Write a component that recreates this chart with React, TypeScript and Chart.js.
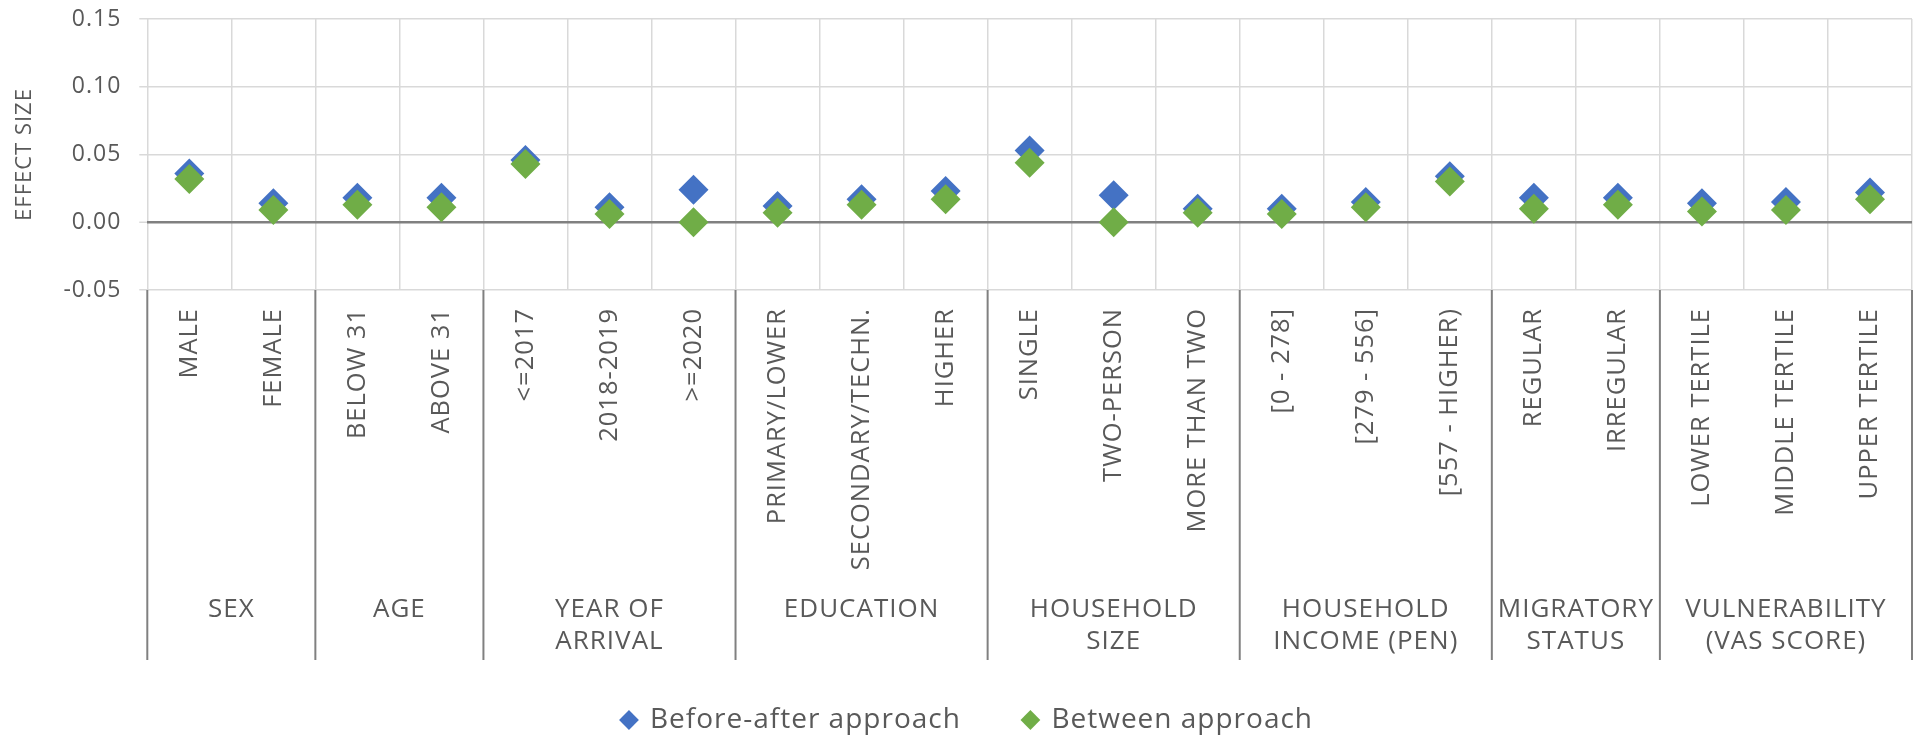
import React, { useEffect, useRef } from 'react';
import { Chart, registerables } from 'chart.js';

Chart.register(...registerables);

// ---- data ----
const categories = [
  'MALE', 'FEMALE',
  'BELOW 31', 'ABOVE 31',
  '<=2017', '2018-2019', '>=2020',
  'PRIMARY/LOWER', 'SECONDARY/TECHN.', 'HIGHER',
  'SINGLE', 'TWO-PERSON', 'MORE THAN TWO',
  '[0 - 278]', '[279 - 556]', '[557 - HIGHER)',
  'REGULAR', 'IRREGULAR',
  'LOWER TERTILE', 'MIDDLE TERTILE', 'UPPER TERTILE',
];
const groupNames = [
  ['SEX'], ['AGE'], ['YEAR OF', 'ARRIVAL'], ['EDUCATION'],
  ['HOUSEHOLD', 'SIZE'], ['HOUSEHOLD', 'INCOME (PEN)'],
  ['MIGRATORY', 'STATUS'], ['VULNERABILITY', '(VAS SCORE)'],
];
const groupSizes = [2, 2, 3, 3, 3, 3, 2, 3];
const seriesNames = ['Before-after approach', 'Between approach'];
const beforeAfter = [
  0.036, 0.014, 0.018, 0.018, 0.046, 0.011, 0.024, 0.012, 0.017, 0.023,
  0.053, 0.020, 0.010, 0.010, 0.015, 0.034, 0.018, 0.018, 0.014, 0.015, 0.022,
];
const between = [
  0.032, 0.009, 0.013, 0.011, 0.043, 0.006, 0.000, 0.007, 0.013, 0.017,
  0.044, 0.000, 0.007, 0.006, 0.011, 0.030, 0.010, 0.013, 0.008, 0.009, 0.017,
];
const yTicks = [-0.05, 0, 0.05, 0.1, 0.15];

const BLUE = '#4472C4';
const GREEN = '#70AD47';
const TEXT = '#595959';
const GRID = '#d9d9d9';
const AXISLINE = '#808080';
const FONT = "'Open Sans', 'Noto Sans', sans-serif";

// group boundaries / centers derived from group sizes
const groupBounds: number[] = [0];
groupSizes.forEach((s) => groupBounds.push(groupBounds[groupBounds.length - 1] + s));
const groupCenters = groupSizes.map((s, i) => groupBounds[i] + (s - 1) / 2);

const letterSpacingPlugin = {
  id: 'letterSpacing',
  beforeUpdate(chart: any) {
    chart.ctx.letterSpacing = '1px';
  },
  beforeDraw(chart: any) {
    chart.ctx.letterSpacing = '1px';
  },
};

const separatorPlugin = {
  id: 'groupSeparators',
  afterDraw(chart: any) {
    const x = chart.scales.x;
    const xg = chart.scales.xg;
    const half = (x.getPixelForValue(1) - x.getPixelForValue(0)) / 2;
    const ctx = chart.ctx;
    ctx.save();
    ctx.strokeStyle = AXISLINE;
    ctx.lineWidth = 2;
    groupBounds.forEach((b) => {
      const px = x.getPixelForValue(b) - half;
      ctx.beginPath();
      ctx.moveTo(px, chart.chartArea.bottom);
      ctx.lineTo(px, xg.bottom);
      ctx.stroke();
    });
    ctx.restore();
  },
};

export default function App() {
  const ref = useRef<HTMLCanvasElement>(null);

  useEffect(() => {
    const canvas = ref.current;
    if (!canvas) return;
    const chart = new Chart(canvas, {
      type: 'line',
      data: {
        labels: categories,
        datasets: [
          {
            label: seriesNames[0],
            data: beforeAfter,
            showLine: false,
            pointStyle: 'rectRot',
            pointRadius: 15,
            pointBorderWidth: 0,
            pointBackgroundColor: BLUE,
            backgroundColor: BLUE,
            borderColor: BLUE,
            borderWidth: 0,
            order: 1,
          },
          {
            label: seriesNames[1],
            data: between,
            showLine: false,
            pointStyle: 'rectRot',
            pointRadius: 15,
            pointBorderWidth: 0,
            pointBackgroundColor: GREEN,
            backgroundColor: GREEN,
            borderColor: GREEN,
            borderWidth: 0,
            order: 0,
          },
        ],
      },
      options: {
        responsive: false,
        devicePixelRatio: 1,
        animation: false,
        events: [],
        layout: { padding: { left: 8, top: 19, right: 0, bottom: 0 } },
        font: { family: FONT },
        scales: {
          x: {
            type: 'category',
            offset: true,
            weight: 0,
            grid: { offset: true, color: GRID, lineWidth: 1.5, drawTicks: false },
            border: { display: false },
            ticks: {
              autoSkip: false,
              minRotation: 90,
              maxRotation: 90,
              padding: 18,
              color: TEXT,
              font: { family: FONT, size: 25.5 },
            },
            afterFit: (axis: any) => {
              axis.height = 292;
            },
          },
          xg: {
            type: 'linear',
            position: 'bottom',
            weight: 1,
            min: -0.5,
            max: categories.length - 0.5,
            grid: { display: false, drawTicks: false },
            border: { display: false },
            afterBuildTicks: (axis: any) => {
              axis.ticks = groupCenters.map((v) => ({ value: v }));
            },
            ticks: {
              autoSkip: false,
              minRotation: 0,
              maxRotation: 0,
              padding: 12,
              color: TEXT,
              font: { family: FONT, size: 26, lineHeight: 1.22 },
              callback: (_v: any, i: number) => groupNames[i],
            },
            afterFit: (axis: any) => {
              axis.height = 78;
            },
          },
          y: {
            type: 'linear',
            min: yTicks[0],
            max: yTicks[yTicks.length - 1],
            afterBuildTicks: (axis: any) => {
              axis.ticks = yTicks.map((v) => ({ value: v }));
            },
            grid: {
              color: (c: any) => (c.tick && Math.abs(c.tick.value) < 1e-9 ? AXISLINE : GRID),
              lineWidth: (c: any) => (c.tick && Math.abs(c.tick.value) < 1e-9 ? 2.5 : 1.5),
              tickColor: GRID,
              tickWidth: 1.5,
              tickLength: 8,
              drawTicks: true,
            },
            border: { display: false },
            ticks: {
              padding: 18,
              color: TEXT,
              font: { family: FONT, size: 23 },
              callback: (v: any) => Number(v).toFixed(2),
            },
            title: {
              display: true,
              text: 'EFFECT SIZE',
              color: TEXT,
              font: { family: FONT, size: 22 },
              padding: { top: 4, bottom: 0 },
            },
            afterFit: (axis: any) => {
              axis.width = 139.3;
              axis.paddingTop = 0;
              axis.paddingBottom = 0;
            },
          },
        },
        plugins: {
          tooltip: { enabled: false },
          legend: {
            position: 'bottom',
            labels: {
              usePointStyle: true,
              boxWidth: 14,
              boxHeight: 14,
              padding: 46,
              color: TEXT,
              font: { family: FONT, size: 28 },
              generateLabels: (ch: any) => {
                const items = (Chart.defaults as any).plugins.legend.labels.generateLabels(ch);
                return items
                  .slice()
                  .sort((a: any, b: any) => a.datasetIndex - b.datasetIndex)
                  .map((it: any) => ({
                    ...it,
                    text: it.datasetIndex === 0 ? it.text + '\u00a0\u00a0' : it.text,
                  }));
              },
            },
          },
        },
      } as any,
      plugins: [letterSpacingPlugin, separatorPlugin],
    });
    return () => chart.destroy();
  }, []);

  return (
    <div
      style={{
        position: 'absolute',
        left: 0,
        top: 0,
        width: 1918,
        height: 738,
        overflow: 'hidden',
        background: '#ffffff',
      }}
    >
      <canvas ref={ref} width={1927} height={744} style={{ display: 'block', width: 1927, height: 744 }} />
    </div>
  );
}
